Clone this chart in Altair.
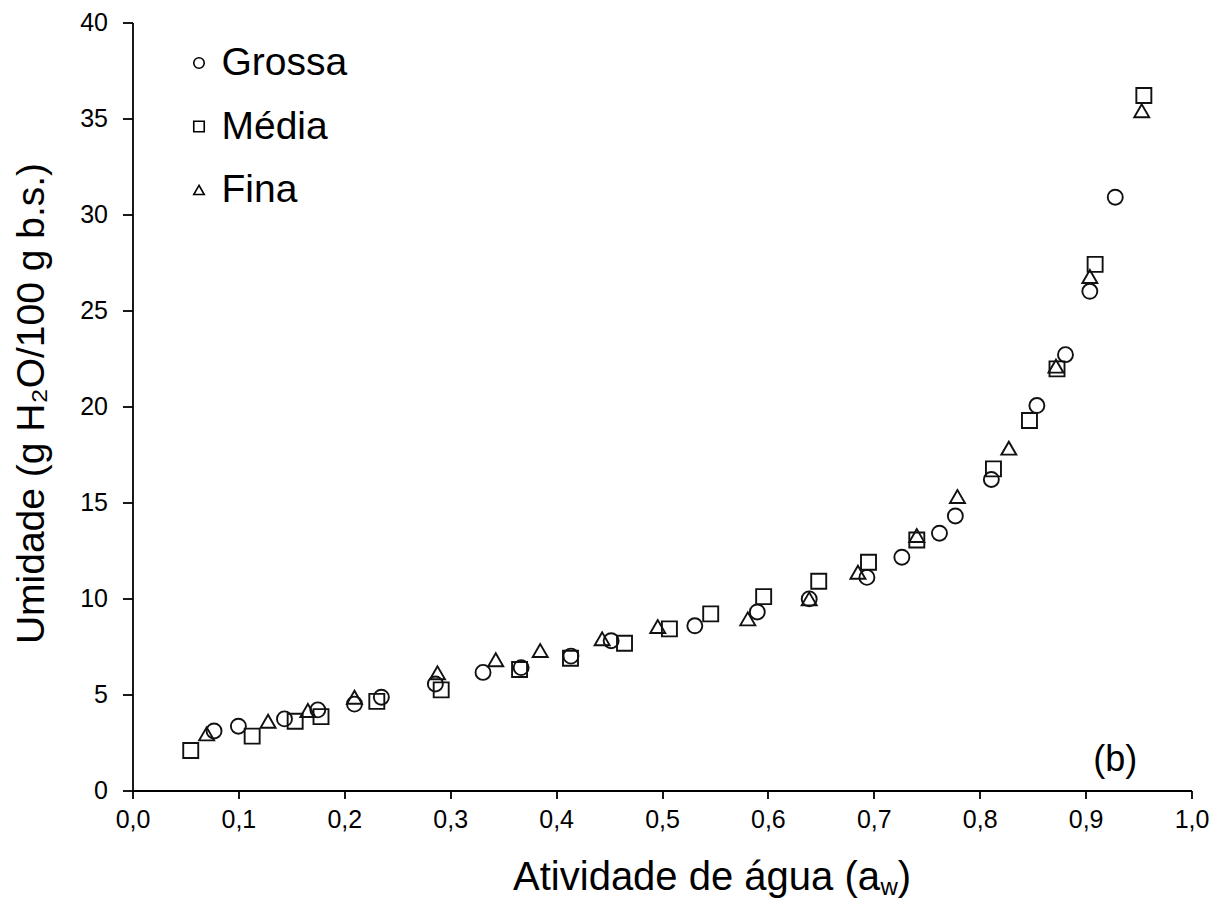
import altair as alt
import pandas as pd

# ---- data ----
series_names = ["Grossa", "Média", "Fina"]
series_shapes = ["circle", "square", "triangle-up"]

grossa_aw = [0.077, 0.100, 0.1435, 0.175, 0.2096, 0.235, 0.286, 0.331, 0.367, 0.414,
             0.452, 0.531, 0.590, 0.639, 0.6935, 0.7265, 0.762, 0.777, 0.811, 0.854,
             0.881, 0.904, 0.928]
grossa_u = [3.1, 3.35, 3.73, 4.2, 4.5, 4.86, 5.55, 6.15, 6.4, 7.0,
            7.8, 8.58, 9.3, 9.98, 11.1, 12.15, 13.4, 14.3, 16.2, 20.05,
            22.7, 26.0, 30.9]

media_aw = [0.055, 0.113, 0.1536, 0.178, 0.2307, 0.2915, 0.3655, 0.4136, 0.4646, 0.507,
            0.546, 0.596, 0.648, 0.695, 0.7406, 0.813, 0.847, 0.873, 0.909, 0.955]
media_u = [2.08, 2.83, 3.61, 3.85, 4.64, 5.24, 6.3, 6.89, 7.67, 8.42,
           9.2, 10.1, 10.9, 11.89, 13.05, 16.75, 19.27, 21.96, 27.4, 36.2]

fina_aw = [0.070, 0.128, 0.1656, 0.2096, 0.288, 0.343, 0.385, 0.4435, 0.496, 0.581,
           0.639, 0.685, 0.7406, 0.779, 0.8275, 0.872, 0.904, 0.953]
fina_u = [2.95, 3.61, 4.17, 4.86, 6.13, 6.81, 7.29, 7.9, 8.54, 8.94,
          9.98, 11.37, 13.28, 15.31, 17.83, 22.1, 26.77, 35.4]

x_ticks = [0.0, 0.1, 0.2, 0.3, 0.4, 0.5, 0.6, 0.7, 0.8, 0.9, 1.0]
y_ticks = [0, 5, 10, 15, 20, 25, 30, 35, 40]

panel_label = "(b)"
panel_label_pos = (0.928, 1.04)

x_title_main = "Atividade de água (a"
x_title_sub = "w"
x_title_end = ")"
y_title = "Umidade (g H\u2082O/100 g b.s.)"

# ---- build table ----
rows = []
for name, xs, ys in [("Grossa", grossa_aw, grossa_u),
                     ("Média", media_aw, media_u),
                     ("Fina", fina_aw, fina_u)]:
    for xv, yv in zip(xs, ys):
        rows.append({"serie": name, "aw": xv, "u": yv})
df = pd.DataFrame(rows)

FONT = "Liberation Sans"
W, H = 1059, 768
INK = "#111111"

points = alt.Chart(df).mark_point(
    filled=False, size=225, strokeWidth=1.9, color=INK, opacity=1
).encode(
    x=alt.X("aw:Q",
            scale=alt.Scale(domain=[0, 1], nice=False, zero=False),
            axis=alt.Axis(values=x_ticks, title=None,
                          labelExpr="replace(format(datum.value, '.1f'), '.', ',')",
                          labelFont=FONT, labelFontSize=25, labelColor="black",
                          labelPadding=9, tickSize=8, tickWidth=1.8, tickColor="black",
                          domainColor="black", domainWidth=1.8, grid=False,
                          labelFlush=False)),
    y=alt.Y("u:Q",
            scale=alt.Scale(domain=[0, 40], nice=False),
            axis=alt.Axis(values=y_ticks, title=y_title,
                          labelFont=FONT, labelFontSize=25, labelColor="black",
                          labelPadding=15, tickSize=10, tickWidth=1.8, tickColor="black",
                          domainColor="black", domainWidth=1.8, grid=False,
                          titleFont=FONT, titleFontSize=39, titleFontWeight="normal",
                          titleColor="black", titleAngle=270, titleAlign="center",
                          titleBaseline="alphabetic", titleX=-89.5, titleY=380.5)),
    shape=alt.Shape("serie:N",
                    scale=alt.Scale(domain=series_names, range=series_shapes),
                    legend=alt.Legend(title=None, orient="none", legendX=47, legendY=21,
                                      labelFont=FONT, labelFontSize=39, labelColor="black",
                                      symbolSize=110, symbolStrokeWidth=1.6,
                                      symbolStrokeColor="black", symbolFillColor="transparent",
                                      rowPadding=23.5, labelOffset=3, padding=0)),
)

label_df = pd.DataFrame({"aw": [panel_label_pos[0]], "u": [panel_label_pos[1]], "t": [panel_label]})
panel = alt.Chart(label_df).mark_text(
    font=FONT, fontSize=36, color="black", align="center", baseline="alphabetic"
).encode(x="aw:Q", y="u:Q", text="t:N")

X1 = 747.5
BASE = 867
t1 = alt.Chart(pd.DataFrame({"t": [x_title_main]})).mark_text(
    font=FONT, fontSize=40, color="black", align="right", baseline="alphabetic"
).encode(x=alt.value(X1), y=alt.value(BASE), text="t:N")
t2 = alt.Chart(pd.DataFrame({"t": [x_title_sub]})).mark_text(
    font=FONT, fontSize=24, color="black", align="left", baseline="alphabetic"
).encode(x=alt.value(X1 + 0.5), y=alt.value(BASE + 5), text="t:N")
t3 = alt.Chart(pd.DataFrame({"t": [x_title_end]})).mark_text(
    font=FONT, fontSize=40, color="black", align="left", baseline="alphabetic"
).encode(x=alt.value(X1 + 17.8), y=alt.value(BASE), text="t:N")

chart = alt.layer(points, panel, t1, t2, t3).properties(
    width=W, height=H,
    autosize=alt.AutoSizeParams(type="none"),
    padding={"left": 124.5, "top": 14.5, "right": 17.5, "bottom": 109.5},
    background="white",
).configure_view(stroke="transparent")

chart.save("out.html", embed_options={"renderer": "svg", "actions": False})
